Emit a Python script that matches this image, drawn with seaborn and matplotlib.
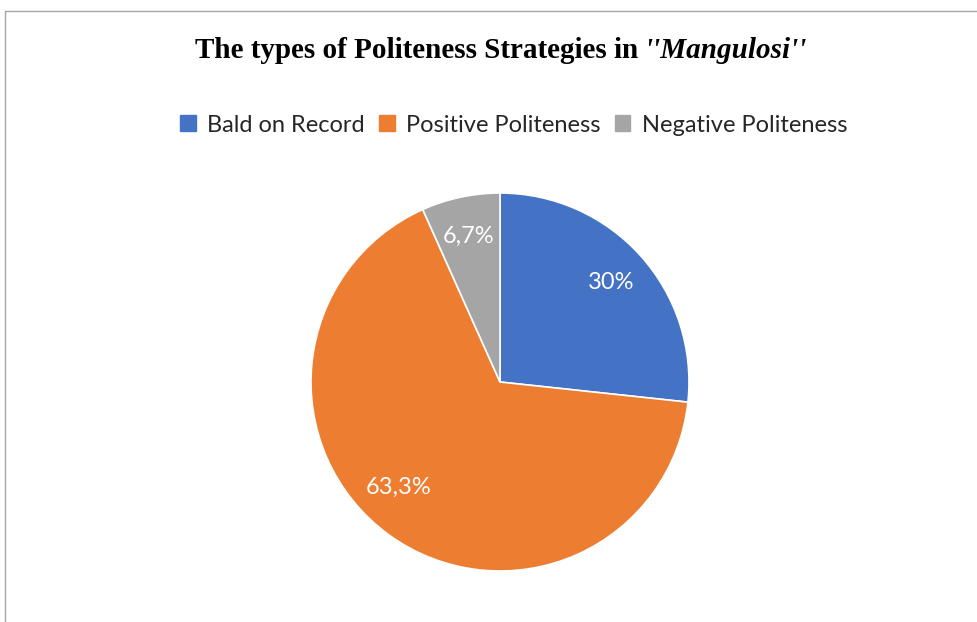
import matplotlib
matplotlib.use("Agg")
import matplotlib.pyplot as plt
import seaborn as sns
from matplotlib.patches import Patch
from matplotlib.lines import Line2D

# Data (slice sizes as drawn, labels as printed)
categories = ["Bald on Record", "Positive Politeness", "Negative Politeness"]
shares = [26.7, 66.6, 6.7]
share_labels = ["30%", "63,3%", "6,7%"]
colors = ["#4472C4", "#ED7D31", "#A5A5A5"]

sns.set_theme(style="white")
plt.rcParams['font.family'] = ['Lato', 'DejaVu Sans']

W, H = 977, 622
fig = plt.figure(figsize=(W / 100, H / 100), dpi=100)

# chart frame (only left and top edges visible in the crop)
fig.add_artist(Line2D([4.5 / W, 4.5 / W], [0, 1 - 10.5 / H], color="#A6A6A6", lw=1, transform=fig.transFigure))
fig.add_artist(Line2D([4.5 / W, 1], [1 - 10.5 / H, 1 - 10.5 / H], color="#A6A6A6", lw=1, transform=fig.transFigure))

# pie
cx, cy, r = 500, 622 - 382, 189
ax = fig.add_axes([(cx - r) / W, (cy - r) / H, 2 * r / W, 2 * r / H])
wedges, texts = ax.pie(shares, labels=share_labels, colors=colors, startangle=90,
                       counterclock=False, labeldistance=0.79,
                       wedgeprops=dict(edgecolor="white", linewidth=1.2),
                       textprops=dict(color="white", fontsize=17))
for t in texts:
    t.set_horizontalalignment("center")
    t.set_verticalalignment("center")
# Excel nudges the big slice's label a bit towards the left
texts[1].set_position((-0.535, -0.56))
ax.set_xlim(-1, 1)
ax.set_ylim(-1, 1)
ax.set_aspect("equal")
ax.axis("off")

# title: bold serif with an italic part
renderer = fig.canvas.get_renderer()
ty = 1 - 51 / H
t1 = fig.text(0, ty, "The types of Politeness Strategies in ", fontsize=21, fontweight="bold",
              family="Liberation Serif", va="center", ha="left", color="black")
t2 = fig.text(0, ty, "''Mangulosi''", fontsize=21, fontweight="bold", fontstyle="italic",
              family="Liberation Serif", va="center", ha="left", color="black")
w1 = t1.get_window_extent(renderer).width
w2 = t2.get_window_extent(renderer).width
x0 = (501 - (w1 + w2) / 2) / W
t1.set_x(x0)
t2.set_x(x0 + w1 / W)

# legend
handles = [Patch(facecolor=c, edgecolor=c) for c in colors]
leg = fig.legend(handles, categories, loc="center", bbox_to_anchor=(514 / W, 1 - 125 / H), ncol=3,
                 frameon=False, fontsize=17, handlelength=0.65, handleheight=0.65,
                 handletextpad=0.5, columnspacing=0.6)
for t in leg.get_texts():
    t.set_color("#262626")

fig.savefig("out.png", dpi=100)
